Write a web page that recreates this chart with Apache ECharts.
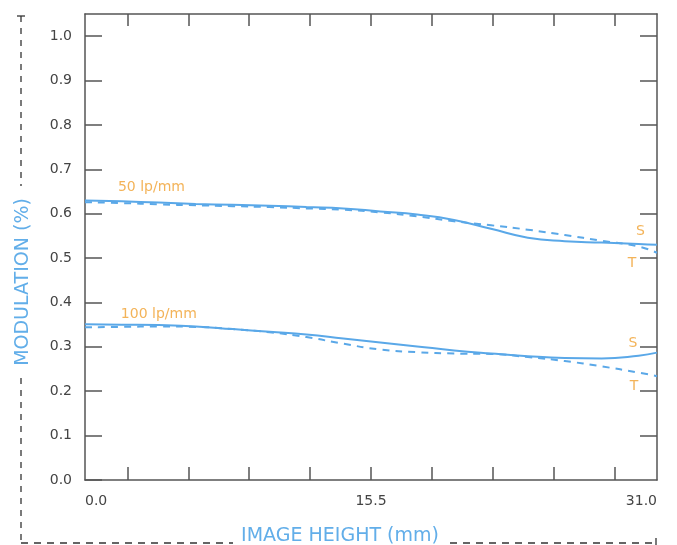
<!DOCTYPE html>
<html>
<head>
<meta charset="utf-8">
<script src="https://cdn.jsdelivr.net/npm/echarts@6/dist/echarts.min.js"></script>
<style>
  html, body { margin: 0; padding: 0; background: #fff; }
  #main { width: 677px; height: 545px; }
</style>
</head>
<body>
<div id="main"></div>
<script>
// image height (mm)
var imageHeight = [0, 2, 4, 6, 8, 10, 12, 14, 16, 18, 20, 22, 24, 26, 28, 30, 31];

// 50 lp/mm, sagittal / tangential
var mtf50S = [0.630, 0.628, 0.625, 0.622, 0.620, 0.618, 0.615, 0.612, 0.605, 0.598, 0.586, 0.566, 0.546, 0.538, 0.535, 0.532, 0.530];
var mtf50T = [0.626, 0.624, 0.621, 0.619, 0.617, 0.615, 0.612, 0.609, 0.603, 0.594, 0.583, 0.574, 0.564, 0.552, 0.539, 0.526, 0.512];

// 100 lp/mm, sagittal / tangential
var mtf100S = [0.351, 0.350, 0.349, 0.346, 0.340, 0.334, 0.328, 0.319, 0.310, 0.301, 0.292, 0.285, 0.279, 0.275, 0.274, 0.280, 0.287];
var mtf100T = [0.344, 0.345, 0.346, 0.345, 0.340, 0.333, 0.322, 0.307, 0.294, 0.288, 0.285, 0.284, 0.277, 0.268, 0.256, 0.242, 0.234];

// tick labels
var xLabelValues = [0, 15.5, 31];
var xTickValues = [2.3, 5.6, 8.9, 12.2, 15.5, 18.8, 22.1, 25.4, 28.7];
var yLabelValues = [0, 0.1, 0.2, 0.3, 0.4, 0.5, 0.6, 0.7, 0.8, 0.9, 1.0];
var yRightTicks = [0.1, 0.2, 0.3, 0.4, 0.5, 0.6, 0.7, 0.8, 0.9, 1.0];

// text annotations
var noteText = ['50 lp/mm', '100 lp/mm', 'S', 'T', 'S', 'T'];
var noteX = [3.6, 4.0, 30.1, 29.65, 29.7, 29.75];
var noteY = [0.660, 0.374, 0.561, 0.489, 0.308, 0.210];

var blue = '#5aa8e8';
var orange = '#f0a030';
var axisColor = '#555';
var font = '"DejaVu Sans", sans-serif';

function pairs(ys) {
    return imageHeight.map(function (x, i) { return [x, ys[i]]; });
}

var myChart = echarts.init(document.getElementById('main'));

var option = {
    animation: false,
    backgroundColor: '#fff',
    grid: {
        left: 85,
        right: 20,
        top: 14,
        bottom: 65,
        outerBoundsMode: 'none'
    },
    xAxis: [{
        type: 'value',
        min: 0,
        max: 31,
        position: 'bottom',
        name: 'IMAGE HEIGHT (mm)',
        nameLocation: 'middle',
        nameGap: 47,
        nameTextStyle: {
            color: '#62aee9',
            fontSize: 19,
            fontFamily: font,
            padding: [0, 62, 0, 0]
        },
        axisLine: { show: true, onZero: false, lineStyle: { color: axisColor, width: 1.5 } },
        axisTick: {
            show: true,
            inside: true,
            length: 13,
            customValues: xTickValues,
            lineStyle: { color: axisColor, width: 1.5 }
        },
        axisLabel: {
            customValues: xLabelValues,
            margin: 14,
            color: '#444',
            fontSize: 14,
            fontFamily: font,
            alignMinLabel: 'left',
            alignMaxLabel: 'right',
            formatter: function (v) { return v.toFixed(1); }
        },
        splitLine: { show: false }
    }, {
        type: 'value',
        min: 0,
        max: 31,
        position: 'top',
        axisLine: { show: true, onZero: false, lineStyle: { color: axisColor, width: 1.5 } },
        axisTick: {
            show: true,
            inside: true,
            length: 12,
            customValues: xTickValues,
            lineStyle: { color: axisColor, width: 1.5 }
        },
        axisLabel: { show: false },
        splitLine: { show: false }
    }],
    yAxis: [{
        type: 'value',
        min: 0,
        max: 1.05,
        position: 'left',
        name: 'MODULATION (%)',
        nameLocation: 'middle',
        nameGap: 52,
        nameRotate: 90,
        nameTextStyle: {
            color: '#62aee9',
            fontSize: 19,
            fontFamily: font,
            padding: [0, 70, 0, 0]
        },
        axisLine: { show: true, onZero: false, lineStyle: { color: axisColor, width: 1.5 } },
        axisTick: {
            show: true,
            inside: true,
            length: 17,
            customValues: yLabelValues,
            lineStyle: { color: axisColor, width: 1.5 }
        },
        axisLabel: {
            customValues: yLabelValues,
            margin: 13,
            color: '#444',
            fontSize: 14,
            fontFamily: font,
            formatter: function (v) { return v.toFixed(1); }
        },
        splitLine: { show: false }
    }, {
        type: 'value',
        min: 0,
        max: 1.05,
        position: 'right',
        axisLine: { show: true, onZero: false, lineStyle: { color: axisColor, width: 1.5 } },
        axisTick: {
            show: true,
            inside: true,
            length: 17,
            customValues: yRightTicks,
            lineStyle: { color: axisColor, width: 1.5 }
        },
        axisLabel: { show: false },
        splitLine: { show: false }
    }],
    series: [{
        name: '50 lp/mm S',
        type: 'line',
        smooth: true,
        showSymbol: false,
        data: pairs(mtf50S),
        lineStyle: { color: blue, width: 2 }
    }, {
        name: '50 lp/mm T',
        type: 'line',
        smooth: true,
        showSymbol: false,
        data: pairs(mtf50T),
        lineStyle: { color: blue, width: 2, type: [7, 6] }
    }, {
        name: '100 lp/mm S',
        type: 'line',
        smooth: true,
        showSymbol: false,
        data: pairs(mtf100S),
        lineStyle: { color: blue, width: 2 }
    }, {
        name: '100 lp/mm T',
        type: 'line',
        smooth: true,
        showSymbol: false,
        data: pairs(mtf100T),
        lineStyle: { color: blue, width: 2, type: [7, 6] }
    }, {
        // S / T and frequency notes
        type: 'scatter',
        symbolSize: 1,
        itemStyle: { color: 'rgba(0,0,0,0)' },
        data: noteText.map(function (t, i) { return { name: t, value: [noteX[i], noteY[i]] }; }),
        label: {
            show: true,
            position: 'inside',
            formatter: '{b}',
            color: orange,
            fontSize: 14,
            fontFamily: font
        }
    }],
    // dashed frame round the axis titles
    graphic: [{
        type: 'line',
        shape: { x1: 21, y1: 16, x2: 21, y2: 186 },
        style: { stroke: '#333', lineWidth: 1.3, lineDash: [6, 6] }
    }, {
        type: 'line',
        shape: { x1: 17, y1: 16, x2: 25, y2: 16 },
        style: { stroke: '#333', lineWidth: 1.3 }
    }, {
        type: 'line',
        shape: { x1: 21, y1: 378, x2: 21, y2: 543 },
        style: { stroke: '#333', lineWidth: 1.3, lineDash: [6, 6] }
    }, {
        type: 'line',
        shape: { x1: 21, y1: 543, x2: 233, y2: 543 },
        style: { stroke: '#333', lineWidth: 1.3, lineDash: [7, 6] }
    }, {
        type: 'line',
        shape: { x1: 450, y1: 543, x2: 655, y2: 543 },
        style: { stroke: '#333', lineWidth: 1.3, lineDash: [7, 6] }
    }, {
        type: 'line',
        shape: { x1: 656, y1: 538, x2: 656, y2: 545 },
        style: { stroke: '#333', lineWidth: 1.3 }
    }]
};

myChart.setOption(option);
</script>
</body>
</html>
